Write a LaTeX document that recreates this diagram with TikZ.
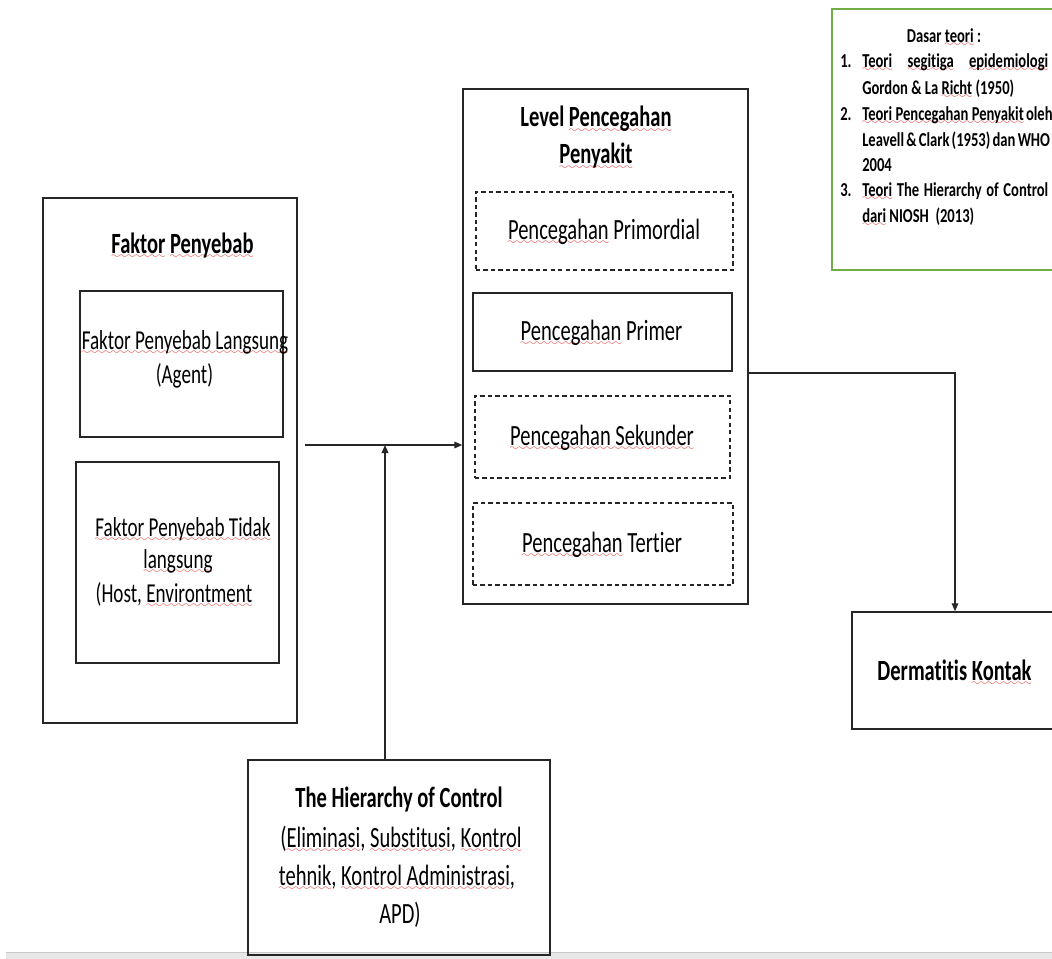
\documentclass[tikz,border=0pt]{standalone}
\usepackage{fontspec}
\setmainfont{Carlito}[FakeStretch=0.7,Ligatures=NoCommon]
\newfontfamily\notefont{Carlito}[FakeStretch=0.74,Ligatures=NoCommon]
\usetikzlibrary{arrows.meta}
\definecolor{wavered}{RGB}{235,40,40}
\definecolor{framegreen}{RGB}{112,173,71}
% red wavy spell-check underline, made of repeated wave glyphs
\font\wavefont=lasy7
\newcommand\sq[1]{\leavevmode\setbox0\hbox{#1}%
  \rlap{\lower0.2em\hbox to\wd0{\color{wavered}\xleaders\hbox{\wavefont\char58}\hfill}}\box0\relax}
% rectangle node from corner coordinates: style, name, x1, y1, x2, y2
\newcommand\rect[6]{\node[#1,minimum width={(#5-#3)*0.75pt},minimum height={(#6-#4)*0.75pt}] (#2) at ({(#3+#5)/2},{(#4+#6)/2}) {};}

\begin{document}
\begin{tikzpicture}[x=0.75pt,y=-0.75pt,
  frame/.style={draw=black!85,line width=1.1pt,inner sep=0pt,rectangle},
  dframe/.style={frame,line width=0.9pt,dash pattern=on 3.2pt off 2.4pt},
  gframe/.style={frame,draw=framegreen,line width=1.1pt},
  big/.style={inner sep=0pt,anchor=base,font=\fontsize{22}{26}\selectfont},
  bigb/.style={inner sep=0pt,anchor=base,font=\fontsize{22}{26}\selectfont\bfseries},
  mid/.style={inner sep=0pt,anchor=base,font=\fontsize{20.5}{24}\selectfont},
  note/.style={inner sep=0pt,anchor=base west,font=\notefont\fontsize{14.8}{18}\selectfont\bfseries},
  link/.style={draw=black!85,line width=1.1pt},
  tip/.style={-{Triangle[length=6pt,width=5pt]}},
]
\useasboundingbox (0,0) rectangle (1052,959);
\clip (0,0) rectangle (1052,959);
\fill[white] (0,0) rectangle (1052,959);
% status bar strip along the bottom
\fill[black!9] (6,952) rectangle (1052,959);
\draw[black!22,line width=0.6pt] (6,952) -- (1052,952);

% boxes
\rect{frame}{cause}{43}{198}{297}{723}
\rect{frame}{direct}{80}{291}{283}{437}
\rect{frame}{indirect}{76}{462}{279}{663}
\rect{frame}{level}{463}{89}{748}{604}
\rect{dframe}{primordial}{476}{192}{733}{270}
\rect{frame}{primary}{473}{293}{732}{371}
\rect{dframe}{secondary}{475}{396}{730}{478}
\rect{dframe}{tertiary}{473}{503}{733}{585}
\rect{frame}{outcome}{852}{612}{1070}{729}
\rect{gframe}{basis}{832}{9}{1070}{270}
\rect{frame}{hoc}{248}{760}{550}{955}

% connectors
\coordinate (start) at (305,445);
\coordinate (join) at (385,445);
\coordinate (bend) at (955,373);
\draw[link,tip] (start) -- (start -| level.west);
\draw[link,tip] (hoc.north -| join) -- (join);
\draw[link,line width=0.8pt,tip] (bend -| level.east) -- (bend) -- (bend |- outcome.north);

% causes
\node[bigb] (t-cause) at (182.5,253) {\sq{Faktor} \sq{Penyebab}};
\node[mid] (t-direct1) at (185,349) {\sq{Faktor Penyebab Langsung}};
\node[mid] (t-direct2) at (184.5,383) {(Agent)};
\node[mid] (t-ind1) at (183,536) {\sq{Faktor Penyebab Tidak}};
\node[mid] (t-ind2) at (178,568) {\sq{langsung}};
\node[mid] (t-ind3) at (174,602) {(Host, \sq{Environtment}};

% prevention levels
\node[bigb] (t-level1) at (596,127) {Level \sq{Pencegahan}};
\node[bigb] (t-level2) at (596,164) {\sq{Penyakit}};
\node[big] (t-prim0) at (604,239) {\sq{Pencegahan} Primordial};
\node[big] (t-prim1) at (601.5,340) {\sq{Pencegahan} Primer};
\node[big] (t-prim2) at (602,445) {\sq{Pencegahan Sekunder}};
\node[big] (t-prim3) at (602,552) {\sq{Pencegahan} Tertier};

% outcome
\node[bigb] (t-outcome) at (954.5,680) {Dermatitis \sq{Kontak}};

% hierarchy of control
\node[bigb] (t-hoc1) at (399,807) {The Hierarchy of Control};
\node[big] (t-hoc2) at (401,847) {(\sq{Eliminasi}, \sq{Substitusi}, \sq{Kontrol}};
\node[big] (t-hoc3) at (397,885) {\sq{tehnik}, \sq{Kontrol Administrasi},};
\node[big] (t-hoc4) at (400,923) {APD)};

% theoretical basis
\node[note,anchor=base] (t-b0) at (944,43) {Dasar \sq{teori} :};
\node[note] (n1) at (840,68) {1.};
\node[note] (t-b1) at (862,68) {\makebox[139.5pt][s]{\sq{Teori} \sq{segitiga} \sq{epidemiologi}}};
\node[note] (t-b2) at (862,95) {Gordon \& La \sq{Richt} (1950)};
\node[note] (n2) at (840,121) {2.};
\node[note] (t-b3) at (862,121) {\makebox[139.5pt][s]{\sq{Teori Pencegahan Penyakit} oleh}};
\node[note] (t-b4) at (862,147) {\makebox[139.5pt][s]{Leavell \& Clark (1953) dan WHO}};
\node[note] (t-b5) at (862,172) {2004};
\node[note] (n3) at (840,197) {3.};
\node[note] (t-b6) at (862,197) {\makebox[139.5pt][s]{\sq{Teori} The Hierarchy of Control}};
\node[note] (t-b7) at (862,223) {\sq{dari} NIOSH\ \ (2013)};
\end{tikzpicture}
\end{document}
